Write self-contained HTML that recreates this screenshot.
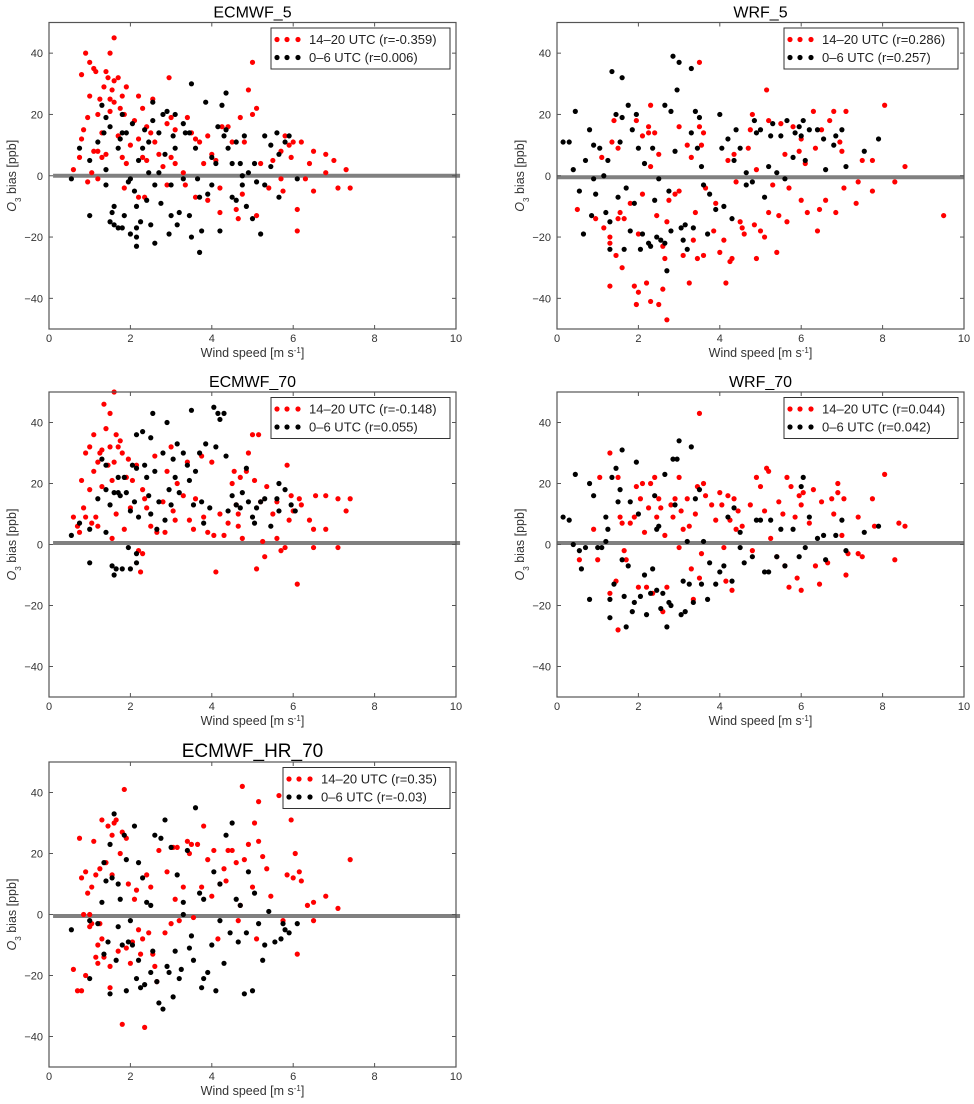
<!DOCTYPE html>
<html><head><meta charset="utf-8"><style>
html,body{margin:0;padding:0;background:#fff;}
svg{display:block;font-family:"Liberation Sans","DejaVu Sans",sans-serif;}
</style></head><body>
<svg id="fig" width="974" height="1104" viewBox="0 0 974 1104" xmlns="http://www.w3.org/2000/svg"></svg>
<script>
const panelTitles = ["ECMWF_5","WRF_5","ECMWF_70","WRF_70","ECMWF_HR_70"];
const legendRed = ["14–20 UTC (r=-0.359)","14–20 UTC (r=0.286)","14–20 UTC (r=-0.148)","14–20 UTC (r=0.044)","14–20 UTC (r=0.35)"];
const legendBlack = ["0–6 UTC (r=0.006)","0–6 UTC (r=0.257)","0–6 UTC (r=0.055)","0–6 UTC (r=0.042)","0–6 UTC (r=-0.03)"];
const zeroLine = [0,-0.5,0.5,0.5,-0.5];
const xTicks = [0,2,4,6,8,10];
const yTicks = [-40,-20,0,20,40];

const ecmwf5Red = [[0.6,2],[0.8,33],[0.9,40],[0.95,19],[1.0,26],[1.0,37],[1.1,35],[1.15,34],[1.2,20],[1.2,8],[1.1,8],[0.8,12],[0.75,6],[0.85,15],[1.25,25],[1.3,14],[1.35,29],[1.4,34],[1.45,32],[1.5,40],[1.55,28],[1.6,45],[1.6,31],[1.7,32],[1.5,21],[1.4,7],[1.3,6],[1.5,25],[1.6,24],[1.75,22],[1.8,26],[1.9,29],[1.85,20],[1.7,13],[1.8,6],[1.9,4],[2.0,10],[2.1,18],[2.2,26],[2.3,22],[2.2,12],[2.3,6],[2.4,5],[2.4,16],[2.5,14],[2.55,25],[2.6,11],[2.7,7],[2.8,3],[2.9,17],[2.95,32],[3.0,19],[3.1,15],[3.0,6],[3.1,4],[2.9,-3],[3.3,1],[3.35,-3],[3.4,19],[3.5,14],[3.6,12],[3.7,11],[3.8,4],[3.9,13],[4.0,7],[4.1,5],[4.2,-4],[4.2,-12],[4.25,16],[4.4,16],[4.5,11],[4.6,-11],[4.65,-14],[4.7,19],[4.8,11],[4.9,28],[5.0,37],[5.0,20],[5.1,22],[5.1,-13],[5.2,4],[5.4,-4],[5.5,5],[5.7,8],[5.8,13],[5.9,10],[5.95,6],[6.0,11],[6.1,-11],[6.1,-18],[6.2,11],[6.3,-1],[6.4,4],[6.5,8],[6.5,-5],[6.8,7],[6.8,1],[7.0,5],[7.1,-4],[7.3,2],[7.4,-4],[1.05,1],[0.95,-2],[1.2,-1],[3.6,-7],[3.9,-8],[4.75,-6],[5.7,-1],[5.75,-5],[2.2,-7],[2.35,-7],[1.85,-4]];
const ecmwf5Black = [[0.55,-1],[0.75,9],[1.0,5],[1.0,-13],[1.3,23],[1.35,14],[1.4,19],[1.4,-3],[1.5,16],[1.5,-15],[1.55,-12],[1.6,-10],[1.6,-16],[1.7,-17],[1.7,9],[1.75,12],[1.8,14],[1.8,20],[1.85,-13],[1.8,-17],[1.9,14],[1.95,-2],[2.0,-19],[2.05,17],[2.1,-5],[2.15,-10],[2.15,-17],[2.15,-20],[2.15,-23],[2.2,5],[2.25,-15],[2.3,9],[2.35,15],[2.4,-8],[2.45,11],[2.5,-16],[2.55,24],[2.55,18],[2.6,-22],[2.6,-3],[2.7,14],[2.75,-9],[2.8,20],[2.85,7],[2.9,21],[2.95,-19],[3.0,-13],[3.05,13],[3.1,20],[3.1,9],[3.15,-16],[3.2,-12],[3.3,17],[3.35,14],[3.45,14],[3.5,30],[3.45,-13],[3.5,-20],[3.6,9],[3.7,-7],[3.7,-25],[3.75,-18],[3.85,24],[3.9,-6],[4.0,6],[4.1,4],[4.15,16],[4.2,-18],[4.25,23],[4.3,13],[4.35,27],[4.35,15],[4.4,9],[4.5,4],[4.5,-7],[4.6,-8],[4.6,11],[4.7,4],[4.75,-3],[4.8,13],[4.85,-10],[5.0,-14],[5.05,4],[5.1,-2],[5.2,-19],[5.3,13],[5.3,-3],[5.45,10],[5.45,3],[5.6,14],[5.65,7],[5.65,-7],[5.8,11],[5.9,13],[6.1,-1],[2.45,1],[3.0,-3],[2.0,-1],[1.4,2],[1.2,11],[4.0,-3],[3.3,-1],[4.9,1],[4.75,0],[2.7,1],[3.65,-1]];
const wrf5Red = [[0.5,-11],[0.95,-14],[1.1,6],[1.15,-17],[1.3,-22],[1.3,-20],[1.3,-36],[1.35,11],[1.4,18],[1.45,-26],[1.5,9],[1.5,-14],[1.55,-12],[1.6,-30],[1.65,-14],[1.8,-9],[1.9,-36],[1.95,-42],[1.95,18],[2.0,-19],[2.0,-38],[2.1,13],[2.1,-6],[2.2,-35],[2.25,16],[2.25,14],[2.3,-41],[2.3,23],[2.3,3],[2.4,14],[2.5,7],[2.45,-13],[2.5,-42],[2.6,-37],[2.6,-23],[2.65,-27],[2.7,-15],[2.7,-47],[2.75,-8],[2.9,-6],[3.0,16],[3.0,-5],[3.1,-26],[3.2,10],[3.25,-35],[3.3,6],[3.35,-21],[3.4,-12],[3.45,-27],[3.5,37],[3.5,16],[3.55,10],[3.6,-26],[3.6,14],[3.65,-4],[3.85,-18],[4.0,-25],[4.1,-21],[4.15,-35],[4.2,5],[4.25,-28],[4.3,-27],[4.35,7],[4.5,-15],[4.55,-17],[4.6,-19],[4.7,9],[4.75,15],[4.8,20],[4.85,-16],[4.9,-27],[4.9,2],[5.0,-18],[5.1,-20],[5.15,28],[5.2,18],[5.2,-12],[5.4,-25],[5.45,-13],[5.5,17],[5.6,7],[5.65,-15],[5.7,-4],[5.8,16],[5.95,8],[6.0,12],[6.0,-8],[6.1,4],[6.15,-12],[6.3,21],[6.35,9],[6.4,-18],[6.45,-11],[6.5,15],[6.6,-8],[6.7,18],[6.8,21],[6.85,-12],[6.95,11],[7.0,8],[7.05,-4],[7.1,21],[7.35,-9],[7.5,5],[7.75,5],[7.75,-5],[8.05,23],[8.3,-2],[8.55,3],[9.5,-13],[7.4,-2],[4.4,-2],[3.9,-9],[5.3,-3]];
const wrf5Black = [[0.15,11],[0.3,11],[0.4,2],[0.45,21],[0.55,-5],[0.65,-19],[0.7,5],[0.8,15],[0.85,-13],[0.9,10],[0.95,-6],[1.05,9],[1.2,-12],[1.25,5],[1.3,-24],[1.3,-15],[1.35,34],[1.45,20],[1.5,-7],[1.55,11],[1.6,32],[1.6,19],[1.65,-24],[1.7,-4],[1.75,23],[1.8,-18],[1.85,15],[1.9,-9],[1.95,20],[2.0,9],[2.05,-24],[2.1,-19],[2.15,4],[2.25,-22],[2.3,-23],[2.35,9],[2.4,-8],[2.45,-20],[2.55,-21],[2.65,-22],[2.65,23],[2.7,-31],[2.75,-5],[2.8,-18],[2.8,21],[2.85,39],[2.9,8],[2.95,28],[3.0,37],[3.05,-17],[3.1,-21],[3.15,-16],[3.2,-24],[3.3,14],[3.3,35],[3.35,-17],[3.4,21],[3.45,9],[3.5,19],[3.55,3],[3.7,-19],[3.75,-6],[3.9,-11],[4.0,20],[4.05,9],[4.1,-10],[4.2,12],[4.3,-14],[4.35,5],[4.4,15],[4.5,9],[4.65,-3],[4.8,-2],[4.85,18],[4.9,14],[5.0,15],[5.1,-7],[5.2,3],[5.25,13],[5.3,17],[5.4,1],[5.5,13],[5.6,-1],[5.65,18],[5.8,6],[5.85,14],[5.95,16],[6.0,13],[6.05,18],[6.1,5],[6.2,15],[6.4,15],[6.55,12],[6.6,2],[6.8,10],[6.85,13],[7.0,15],[7.1,3],[7.55,8],[7.9,12],[1.15,0],[2.5,-1],[3.6,-3],[4.65,1],[0.9,-1]];
const ecmwf70Red = [[0.6,9],[0.7,6],[0.75,4],[0.8,21],[0.85,12],[0.9,9],[0.9,30],[1.0,32],[1.0,18],[1.05,7],[1.1,24],[1.1,36],[1.15,9],[1.2,6],[1.2,27],[1.25,30],[1.3,31],[1.3,19],[1.35,46],[1.4,38],[1.45,26],[1.5,43],[1.5,32],[1.55,21],[1.55,2],[1.6,50],[1.6,27],[1.65,36],[1.65,10],[1.7,32],[1.75,34],[1.8,30],[1.85,5],[1.9,22],[1.95,28],[2.0,12],[2.05,21],[2.15,26],[2.2,-2],[2.25,-9],[2.3,-3],[2.3,18],[2.35,15],[2.4,12],[2.5,6],[2.6,29],[2.65,4],[2.8,14],[2.9,24],[3.0,32],[3.05,11],[3.1,8],[3.15,20],[3.3,16],[3.4,27],[3.45,8],[3.55,5],[3.6,15],[3.75,29],[3.8,9],[3.9,4],[4.0,27],[4.05,3],[4.1,-9],[4.2,10],[4.3,3],[4.4,7],[4.5,20],[4.55,24],[4.6,13],[4.65,6],[4.7,22],[4.75,2],[4.85,24],[4.9,30],[5.0,36],[5.05,21],[5.1,-8],[5.15,36],[5.2,14],[5.25,1],[5.3,-4],[5.35,19],[5.5,10],[5.6,14],[5.7,-2],[5.8,-1],[5.85,26],[5.9,8],[5.95,16],[6.0,11],[6.1,-13],[6.15,15],[6.2,13],[6.4,8],[6.5,5],[6.55,16],[6.5,-1],[6.8,16],[6.8,5],[7.1,15],[7.1,-1],[7.3,11],[7.4,15],[2.85,4],[4.65,10],[5.6,2]];
const ecmwf70Black = [[0.55,3],[0.75,7],[1.0,5],[1.0,-6],[1.2,15],[1.3,28],[1.4,26],[1.4,18],[1.4,4],[1.5,13],[1.55,-7],[1.6,-10],[1.6,17],[1.65,-8],[1.7,22],[1.75,16],[1.8,-8],[1.85,22],[1.9,17],[1.95,-1],[2.0,-8],[2.05,26],[2.1,14],[2.15,25],[2.15,36],[2.15,-3],[2.15,-6],[2.2,9],[2.3,37],[2.35,26],[2.4,22],[2.45,16],[2.5,10],[2.5,35],[2.55,43],[2.6,24],[2.65,5],[2.7,14],[2.8,30],[2.85,8],[2.9,40],[2.95,18],[3.0,13],[3.05,28],[3.1,22],[3.15,33],[3.2,17],[3.3,30],[3.4,26],[3.45,21],[3.5,44],[3.55,13],[3.7,30],[3.75,14],[3.8,7],[3.85,33],[3.95,12],[4.05,45],[4.1,32],[4.15,43],[4.2,41],[4.3,43],[4.35,29],[4.4,11],[4.5,16],[4.6,13],[4.7,12],[4.75,17],[4.85,25],[4.9,14],[5.0,9],[5.05,7],[5.1,12],[5.2,14],[5.3,15],[5.45,6],[5.6,15],[5.65,20],[5.65,11],[5.8,18],[5.95,13],[6.05,11],[3.6,24],[2.0,11],[1.7,17]];
const wrf70Red = [[0.55,-5],[0.9,5],[1.0,-5],[1.05,22],[1.3,30],[1.3,-16],[1.45,-12],[1.5,22],[1.5,-28],[1.55,9],[1.6,7],[1.65,-2],[1.7,-5],[1.8,7],[1.9,9],[1.95,19],[2.0,-14],[2.05,15],[2.1,20],[2.15,4],[2.2,-14],[2.25,12],[2.3,20],[2.35,-16],[2.4,22],[2.45,9],[2.5,15],[2.55,12],[2.6,-22],[2.65,3],[2.7,-14],[2.8,13],[2.85,9],[2.9,15],[3.0,22],[3.05,11],[3.1,5],[3.2,15],[3.25,6],[3.3,-8],[3.35,-18],[3.4,10],[3.45,19],[3.5,43],[3.5,-11],[3.55,-3],[3.6,20],[3.65,16],[3.8,13],[3.9,8],[4.0,17],[4.05,13],[4.1,-1],[4.15,-12],[4.2,16],[4.25,8],[4.3,-15],[4.35,15],[4.45,11],[4.55,6],[4.75,13],[4.8,-2],[4.9,22],[5.0,19],[5.1,11],[5.15,25],[5.2,24],[5.25,2],[5.4,-4],[5.45,14],[5.55,10],[5.6,-7],[5.65,22],[5.7,-14],[5.75,19],[5.85,9],[5.9,-11],[5.95,16],[6.0,-15],[6.0,13],[6.05,17],[6.2,7],[6.3,18],[6.35,-7],[6.45,-13],[6.5,14],[6.65,-6],[6.75,15],[6.8,10],[6.9,20],[6.9,17],[7.0,3],[7.05,15],[7.1,-10],[7.15,-3],[7.4,-3],[7.4,9],[7.5,-4],[7.75,15],[7.8,6],[8.05,23],[8.3,-5],[8.4,7],[8.55,6],[4.4,5],[3.0,-1]];
const wrf70Black = [[0.15,9],[0.3,8],[0.4,0],[0.45,23],[0.55,-2],[0.6,-8],[0.7,-1],[0.8,20],[0.8,-18],[0.9,16],[1.0,-1],[1.1,-1],[1.2,9],[1.25,5],[1.3,-24],[1.3,-18],[1.35,22],[1.4,-13],[1.45,25],[1.5,14],[1.55,18],[1.6,31],[1.6,-5],[1.65,-17],[1.7,-27],[1.75,-7],[1.8,14],[1.85,-22],[1.9,-19],[1.95,27],[2.0,10],[2.05,-17],[2.15,-10],[2.2,-23],[2.3,-16],[2.35,-8],[2.4,16],[2.45,-15],[2.5,6],[2.55,-21],[2.6,-16],[2.65,23],[2.7,-27],[2.75,-19],[2.8,-20],[2.85,28],[2.9,13],[2.95,28],[3.0,34],[3.05,-23],[3.1,-12],[3.15,-22],[3.25,-13],[3.3,32],[3.35,-19],[3.4,15],[3.5,18],[3.55,-13],[3.7,-18],[3.75,-6],[3.9,-13],[4.0,-9],[4.1,-7],[4.2,9],[4.3,-12],[4.35,12],[4.5,4],[4.6,-6],[4.8,-4],[4.9,8],[5.0,8],[5.1,-9],[5.2,-9],[5.25,8],[5.4,-4],[5.5,5],[5.6,-7],[5.8,5],[5.95,-4],[6.0,19],[6.05,22],[6.1,-1],[6.2,9],[6.4,2],[6.55,3],[6.6,-5],[6.85,3],[7.0,8],[7.1,-2],[7.55,4],[7.9,6],[1.2,1],[2.45,5],[3.2,1],[3.6,1],[4.5,-1]];
const hr70Red = [[0.6,-18],[0.7,-25],[0.75,25],[0.8,-25],[0.8,12],[0.85,0],[0.9,-20],[0.9,14],[0.95,7],[1.0,-4],[1.0,0],[1.05,9],[1.1,24],[1.15,13],[1.15,-14],[1.2,-10],[1.2,-16],[1.25,-3],[1.25,15],[1.3,31],[1.3,-8],[1.35,-14],[1.4,17],[1.45,29],[1.5,-24],[1.5,-17],[1.55,26],[1.55,13],[1.6,30],[1.65,31],[1.7,-12],[1.75,20],[1.8,-36],[1.8,27],[1.85,41],[1.9,25],[1.9,-11],[1.95,10],[2.0,-16],[2.05,-9],[2.1,5],[2.15,8],[2.2,-5],[2.25,-13],[2.3,-8],[2.35,-37],[2.4,13],[2.45,-6],[2.5,9],[2.55,-13],[2.6,-17],[2.65,-22],[2.7,21],[2.85,-6],[2.9,14],[3.0,-3],[3.05,22],[3.1,5],[3.15,22],[3.2,-2],[3.3,9],[3.4,24],[3.45,20],[3.5,23],[3.55,-1],[3.65,23],[3.75,9],[3.8,29],[3.9,18],[4.0,6],[4.05,21],[4.15,-8],[4.2,10],[4.3,15],[4.35,11],[4.4,21],[4.5,21],[4.6,17],[4.65,-2],[4.7,3],[4.75,42],[4.8,18],[4.9,23],[5.0,9],[5.05,30],[5.1,-8],[5.15,37],[5.15,24],[5.25,19],[5.35,15],[5.45,6],[5.65,39],[5.75,-2],[5.85,13],[5.95,31],[6.0,12],[6.05,20],[6.1,-13],[6.15,14],[6.2,11],[6.35,3],[6.5,4],[6.5,-2],[6.8,6],[7.1,2],[7.3,36],[7.4,18],[1.05,-3]];
const hr70Black = [[0.55,-5],[1.0,-2],[1.0,-21],[1.2,-3],[1.3,4],[1.35,17],[1.35,-13],[1.4,11],[1.45,-9],[1.5,23],[1.5,-26],[1.55,12],[1.6,33],[1.65,-15],[1.7,-4],[1.7,10],[1.75,5],[1.8,-10],[1.85,26],[1.9,-25],[1.9,18],[1.95,-9],[2.0,-2],[2.05,-10],[2.1,29],[2.15,-21],[2.2,17],[2.2,-15],[2.25,-24],[2.3,12],[2.35,-23],[2.4,4],[2.5,-19],[2.55,-12],[2.6,26],[2.65,-22],[2.7,-29],[2.75,25],[2.8,-31],[2.85,31],[2.9,-17],[2.95,-19],[3.0,22],[3.05,-27],[3.1,-12],[3.15,13],[3.2,-21],[3.25,-18],[3.3,4],[3.4,21],[3.45,-11],[3.5,-7],[3.55,-15],[3.6,35],[3.7,7],[3.75,-24],[3.8,-21],[3.9,-19],[4.0,-10],[4.05,14],[4.1,-25],[4.2,10],[4.3,-16],[4.35,26],[4.45,-6],[4.5,30],[4.6,5],[4.65,-9],[4.7,3],[4.8,-26],[4.85,-6],[4.9,14],[5.0,-25],[5.05,7],[5.15,-3],[5.25,-15],[5.3,-10],[5.4,1],[5.55,-9],[5.7,-8],[5.75,-3],[5.8,-5],[5.9,-6],[6.1,-3],[2.5,3],[3.3,0],[4.2,-2],[3.8,5]];

const redSeries = [ecmwf5Red, wrf5Red, ecmwf70Red, wrf70Red, hr70Red];
const blackSeries = [ecmwf5Black, wrf5Black, ecmwf70Black, wrf70Black, hr70Black];

const NS = "http://www.w3.org/2000/svg";
const svg = document.getElementById('fig');
function mk(tag, attrs, parent) {
  const e = document.createElementNS(NS, tag);
  for (const k in attrs) e.setAttribute(k, attrs[k]);
  (parent || svg).appendChild(e);
  return e;
}
const boxes = [
  {x0:49, x1:456, y0:22.5, y1:329, leg:222, legW:179, titleSize:16},
  {x0:557, x1:964, y0:22.5, y1:329, leg:227, legW:174, titleSize:16},
  {x0:49, x1:456, y0:392, y1:697, leg:222, legW:179, titleSize:16},
  {x0:557, x1:964, y0:392, y1:697, leg:227, legW:174, titleSize:16},
  {x0:49, x1:456, y0:762, y1:1067, leg:234, legW:167, titleSize:19}
];
boxes.forEach((b, i) => {
  const g = mk('g', {});
  
  
  const sx = v => b.x0 + (v - 0) / 10 * (b.x1 - b.x0);
  const sy = v => b.y1 - (v + 50) / 100 * (b.y1 - b.y0);
  const t = mk('text', {x:(b.x0+b.x1)/2, y:b.y0-5, 'text-anchor':'middle', 'font-size':b.titleSize, fill:'#000'}, g);
  t.textContent = panelTitles[i];
  
  
  // zero line
  const zl = mk('line', {x1:sx(i%2===0?0.1:0), x2:sx(i%2===0?10.1:10), y1:sy(zeroLine[i]), y2:sy(zeroLine[i]), stroke:'#808080', 'stroke-width':4}, g);
  
  
  // series
  const drawSeries = (arr, color, name) => {
    const sg = mk('g', {fill:color}, g);
    
    
    arr.forEach(p => {
      const c = mk('circle', {cx:sx(p[0]), cy:sy(p[1]), r:2.6}, sg);
      
      
    });
  };
  drawSeries(redSeries[i], '#ff0000', 'series-14-20-utc');
  drawSeries(blackSeries[i], '#000000', 'series-0-6-utc');
  // frame
  const fr = mk('rect', {x:b.x0, y:b.y0, width:b.x1-b.x0, height:b.y1-b.y0, fill:'none', stroke:'#555', 'stroke-width':1.2}, g);
  
  
  // ticks
  xTicks.forEach(v => {
    mk('line', {x1:sx(v), x2:sx(v), y1:b.y1, y2:b.y1-4, stroke:'#555'}, g);
    mk('line', {x1:sx(v), x2:sx(v), y1:b.y0, y2:b.y0+4, stroke:'#555'}, g);
    const tl = mk('text', {x:sx(v), y:b.y1+13, 'text-anchor':'middle', 'font-size':11, fill:'#333'}, g);
    tl.textContent = v;
    
    
  });
  yTicks.forEach(v => {
    mk('line', {x1:b.x0, x2:b.x0+4, y1:sy(v), y2:sy(v), stroke:'#555'}, g);
    mk('line', {x1:b.x1, x2:b.x1-4, y1:sy(v), y2:sy(v), stroke:'#555'}, g);
    const tl = mk('text', {x:b.x0-6, y:sy(v)+4, 'text-anchor':'end', 'font-size':11, fill:'#333'}, g);
    tl.textContent = v < 0 ? '\u2212' + Math.abs(v) : v;
    
    
  });
  // axis labels
  const xl = mk('text', {x:(b.x0+b.x1)/2, y:b.y1+28, 'text-anchor':'middle', 'font-size':12.5, fill:'#333'}, g);
  xl.innerHTML = 'Wind speed [m s<tspan baseline-shift="super" font-size="8">-1</tspan>]';
  
  
  const cy = (b.y0+b.y1)/2, cx = b.x0-33;
  const yl = mk('text', {x:cx, y:cy, 'text-anchor':'middle', 'font-size':12.5, fill:'#333', transform:`rotate(-90 ${cx} ${cy})`}, g);
  yl.innerHTML = '<tspan font-style="italic">O</tspan><tspan baseline-shift="sub" font-size="8">3</tspan> bias [ppb]';
  
  
  // legend
  const lg = mk('g', {}, g);
  
  
  const lx = b.x0 + b.leg, ly = b.y0 + 5.5;
  mk('rect', {x:lx, y:ly, width:b.legW, height:41, fill:'#fff', stroke:'#333', 'stroke-width':1}, lg);
  [[legendRed[i], '#ff0000', 11.5], [legendBlack[i], '#000', 29.5]].forEach(([txt, col, dy], k) => {
    [6, 16, 27].forEach(ox => mk('circle', {cx:lx+ox, cy:ly+dy, r:2.6, fill:col}, lg));
    const lt = mk('text', {x:lx+38, y:ly+dy+4.5, 'font-size':13, fill:'#222'}, lg);
    lt.textContent = txt;
    
    
  });
});
</script>
</body></html>
